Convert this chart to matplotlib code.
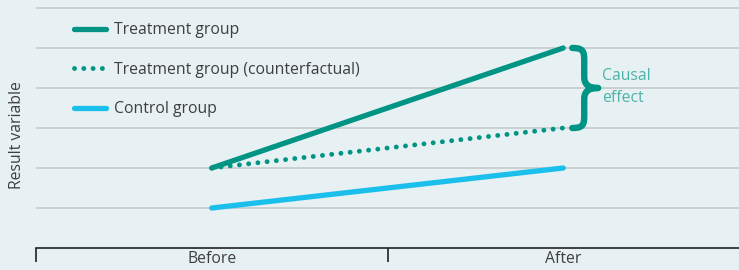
import matplotlib
matplotlib.use("Agg")
import matplotlib.pyplot as plt
from matplotlib.path import Path
from matplotlib.patches import PathPatch
from matplotlib.lines import Line2D

periods = ["Before", "After"]
treatment = [2, 5]
counterfactual = [2, 3]
control = [1, 2]
labels = ["Treatment group", "Treatment group (counterfactual)", "Control group"]
y_label = "Result variable"
effect_label = "Causal\neffect"

TEAL = "#009484"
CYAN = "#1bbfec"
TEXT_TEAL = "#4eb3a8"
BG = "#e7f0f2"
GRID = "#c9cdd0"
TXT = "#3f3f3f"
FS = 11.3

plt.rcParams['font.family'] = ['Open Sans', 'DejaVu Sans']

W, H = 739, 270
fig = plt.figure(figsize=(W / 100, H / 100), dpi=100, facecolor=BG)
ax = fig.add_axes([36 / W, 22 / H, 703 / W, 248 / H], facecolor=BG)

x = list(range(len(periods)))
ax.set_xlim(-0.5, 1.5)
ax.set_ylim(0, 6.2)

for yv in range(1, 7):
    ax.axhline(yv, color=GRID, lw=1.3, zorder=1)

DOT = (0, (0.01, 1.9))
ax.plot(x, treatment, color=TEAL, lw=3.8, solid_capstyle='round', zorder=3)
ax.plot(x, counterfactual, color=TEAL, lw=3.5, linestyle=DOT,
        dash_capstyle='round', zorder=3)
ax.plot(x, control, color=CYAN, lw=3.8, solid_capstyle='round', zorder=3)

handles = [
    Line2D([], [], color=TEAL, lw=3.8, solid_capstyle='round'),
    Line2D([], [], color=TEAL, lw=3.5, linestyle=DOT, dash_capstyle='round'),
    Line2D([], [], color=CYAN, lw=3.8, solid_capstyle='round'),
]
leg = ax.legend(handles, labels, loc='upper left', bbox_to_anchor=(38 / 703, 1 - 22 / 248),
                frameon=False, fontsize=FS, handlelength=2.05, handletextpad=0.5,
                labelspacing=1.5, borderaxespad=0, borderpad=0)
for t in leg.get_texts():
    t.set_color(TXT)

# Brace between counterfactual and treatment at "After"
xa = x[1]
ytop, ybot = treatment[1], counterfactual[1]
ymid = (ytop + ybot) / 2
px = 1 / 352.0          # one pixel in x data units
py = 1 / 40.0           # one pixel in y data units
x0 = xa + 9 * px        # tips
xv = xa + 21 * px       # vertical stroke
xp = xa + 35 * px       # point
verts = [
    (x0, ytop),
    (xv - 1 * px, ytop), (xv, ytop - 3 * py), (xv, ytop - 13 * py),
    (xv, ymid + 11 * py),
    (xv, ymid + 3 * py), (xv + 5 * px, ymid), (xp, ymid),
    (xv + 5 * px, ymid), (xv, ymid - 3 * py), (xv, ymid - 11 * py),
    (xv, ybot + 13 * py),
    (xv, ybot + 3 * py), (xv - 1 * px, ybot), (x0, ybot),
]
codes = [Path.MOVETO,
         Path.CURVE4, Path.CURVE4, Path.CURVE4,
         Path.LINETO,
         Path.CURVE4, Path.CURVE4, Path.CURVE4,
         Path.CURVE4, Path.CURVE4, Path.CURVE4,
         Path.LINETO,
         Path.CURVE4, Path.CURVE4, Path.CURVE4]
ax.add_patch(PathPatch(Path(verts, codes), facecolor='none', edgecolor=TEAL,
                       lw=4.6, capstyle='round', joinstyle='round', zorder=3))
ax.text(xa + 39 * px, ymid + 0.02, effect_label, color=TEXT_TEAL, fontsize=FS,
        va='center', ha='left', linespacing=1.5)

# Axes styling
for s in ['top', 'right', 'left']:
    ax.spines[s].set_visible(False)
ax.spines['bottom'].set_color('#222222')
ax.spines['bottom'].set_linewidth(1.2)
ax.set_yticks([])
ax.set_xticks(x)
ax.set_xticklabels(periods, color=TXT, fontsize=FS)
ax.tick_params(axis='x', which='major', length=0, pad=2.5)
ax.set_xticks([-0.5, 0.5], minor=True)
ax.tick_params(axis='x', which='minor', length=10, width=1.2, color='#222222')
ax.set_ylabel(y_label, color=TXT, fontsize=FS)
ax.yaxis.set_label_coords(-11 / 703, (270 - 135 - 22) / 248)

fig.savefig("out.png", dpi=100, facecolor=BG)
